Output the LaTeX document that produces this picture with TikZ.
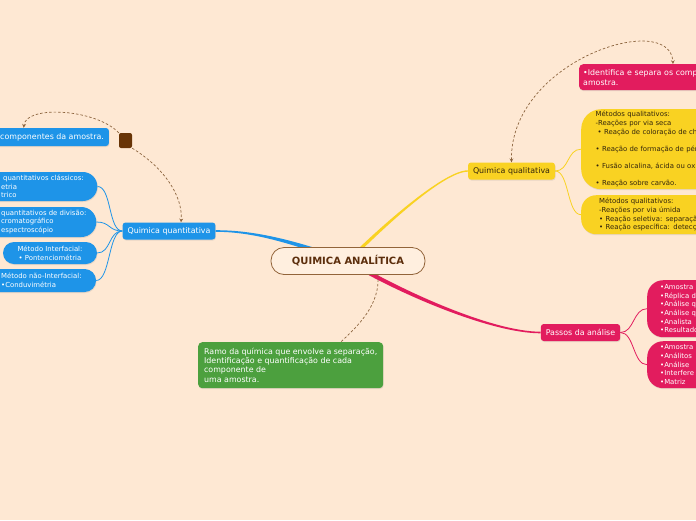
\documentclass[tikz,border=0pt]{standalone}
\usepackage{fontspec}
\setmainfont{DejaVu Sans}
\usepackage{tikz}
\usetikzlibrary{backgrounds, shapes.misc, shadows}
\definecolor{peach}{RGB}{254, 232, 211}
\definecolor{rootfill}{RGB}{255, 239, 223}
\definecolor{rootline}{RGB}{146, 100, 58}
\definecolor{roottext}{RGB}{92, 46, 12}
\definecolor{qblue}{RGB}{30, 148, 232}
\definecolor{qyellow}{RGB}{249, 210, 34}
\definecolor{qpink}{RGB}{226, 28, 94}
\definecolor{qgreen}{RGB}{76, 160, 62}
\definecolor{relbrown}{RGB}{140, 100, 62}
\definecolor{squarebrown}{RGB}{104, 52, 6}
\definecolor{darktext}{RGB}{52, 38, 12}

\tikzset{
  softshadow/.style={drop shadow={shadow xshift=0.5pt, shadow yshift=-1pt, opacity=0.18}},
  rootbox/.style={draw=rootline, line width=0.8, fill=rootfill, rounded corners=13,
    minimum width=154, minimum height=27, text=roottext,
    font=\fontsize{10}{12}\selectfont\bfseries},
  topic/.style={rounded corners=3, minimum height=17, inner xsep=5, inner ysep=0,
    font=\fontsize{7.9}{10}\selectfont, softshadow},
  leaf/.style={inner ysep=0, align=left, font=\fontsize{6.9}{8.6}\selectfont, softshadow},
  leftcap/.style={leaf, rounded rectangle, rounded rectangle west arc=none,
    fill=qblue, text=white},
  relation/.style={relbrown, line width=0.7, dash pattern=on 2.5pt off 2pt}
}

\begin{document}
\begin{tikzpicture}[x=1pt, y=-1pt, >=stealth]

  \useasboundingbox (0,0) rectangle (696,520);
  \begin{scope}[on background layer]
    \fill[peach] (0,0) rectangle (696,520);
  \end{scope}
  \clip (0,0) rectangle (696,520);

  % centre
  \node[rootbox] (root) at (348,261) {QUIMICA ANALÍTICA};

  % main topics
  \node[topic, fill=qblue, text=white] (qtv) at (169,231) {Quimica quantitativa};
  \node[topic, fill=qyellow, text=darktext] (qlt) at (511.5,171) {Quimica qualitativa};
  \node[topic, fill=qpink, text=white] (pas) at (580.5,332.5) {Passos da análise};

  % quantitativa side
  \node[topic, fill=qblue, text=white, anchor=west, minimum height=18] (comp) at (-5,137) {componentes da amostra.};
  \node[fill=squarebrown, rounded corners=2, minimum width=13, minimum height=15, inner sep=0] (sq) at (125.5,140.5) {};

  \node[leftcap, anchor=west, minimum height=29, inner xsep=8] (clas) at (-7,186.5)
    {\hspace{2pt}quantitativos clássicos:\\etria\\trico};
  \node[leftcap, anchor=west, minimum height=30, inner xsep=4] (divi) at (-3,222)
    {quantitativos de divisão:\\cromatográfico\\espectroscópio};
  \node[leaf, fill=qblue, text=white, rounded corners=11, minimum width=94, minimum height=22, align=center] (intf) at (50,253)
    {Método Interfacial:\\• Pontenciométria};
  \node[leftcap, anchor=west, minimum height=23, inner xsep=12] (nint) at (-11,280.5)
    {Método não-Interfacial:\\•Conduvimétria};

  % qualitativa side
  \node[anchor=north west, fill=qpink, text=white, rounded corners=4, minimum height=26, inner xsep=4, inner ysep=0,
    text width=200, align=left, font=\fontsize{7.9}{10}\selectfont, softshadow] (idf) at (579,64)
    {•Identifica e separa os comp\\amostra.};
  \node[leaf, anchor=north west, fill=qyellow, text=darktext, rounded corners=20, minimum height=80,
    inner xsep=14.5, text width=200] (seca) at (581,109)
    {Métodos qualitativos:\\-Reações por via seca\\\hspace{2pt}• Reação de coloração de ch\\[8.6pt]
     • Reação de formação de pér\\[8.6pt]• Fusão alcalina, ácida ou ox\\[8.6pt]• Reação sobre carvão.};
  \node[leaf, anchor=north west, fill=qyellow, text=darktext, rounded corners=15, minimum height=39,
    inner xsep=18, text width=200] (umid) at (581,195)
    {Métodos qualitativos:\\-Reações por via úmida\\• Reação seletiva: separaçã\\• Reação específica: detecç};

  % passos
  \node[leaf, anchor=north west, fill=qpink, text=white, rounded corners=16, minimum height=57,
    inner xsep=13, text width=200] (pasa) at (647,280)
    {•Amostra\\•Réplica d\\•Análise q\\•Análise q\\•Analista\\•Resultado};
  \node[leaf, anchor=north west, fill=qpink, text=white, rounded corners=16, minimum height=47,
    inner xsep=13, text width=200] (pasb) at (647,341)
    {•Amostra\\•Análitos\\•Análise\\•Interfere\\•Matriz};

  % definicao
  \node[anchor=north west, fill=qgreen, text=white, rounded corners=4, minimum width=185, minimum height=46,
    inner ysep=0, align=left, font=\fontsize{7.9}{9.3}\selectfont, softshadow] (ramo) at (198,342)
    {Ramo da química que envolve a separação,\\Identificação e quantificação de cada\\componente de\\uma amostra.};

  \begin{scope}[on background layer]
    % branches
    \fill[qblue] ([yshift=0.8]qtv.east) .. controls +(44,0) and +(-48,-16) .. ([yshift=2.4]root.center)
      -- ([yshift=-2.4]root.center) .. controls +(-48,-16) and +(44,0) .. ([yshift=-0.8]qtv.east) -- cycle;
    \fill[qyellow] ([yshift=0.7]qlt.west) .. controls +(-25,0) and +(30,-30) .. ([xshift=-2.4]root.center)
      -- ([xshift=2.4]root.center) .. controls +(30,-30) and +(-25,0) .. ([yshift=-0.7]qlt.west) -- cycle;
    \fill[qpink] ([yshift=0.8]pas.west) .. controls +(-50,0) and +(50,30) .. ([yshift=2.4]root.center)
      -- ([yshift=-2.4]root.center) .. controls +(50,30) and +(-50,0) .. ([yshift=-0.8]pas.west) -- cycle;

    \draw[qblue, line width=0.8] (qtv.west) .. controls +(-14,0) and +(14,0) .. (clas.east);
    \draw[qblue, line width=0.8] (qtv.west) .. controls +(-14,0) and +(14,0) .. (divi.east);
    \draw[qblue, line width=0.8] (qtv.west) .. controls +(-14,0) and +(14,0) .. (intf.east);
    \draw[qblue, line width=0.8] (qtv.west) .. controls +(-14,0) and +(14,0) .. (nint.east);

    \draw[qyellow, line width=0.8] (qlt.east) .. controls +(14,0) and +(-14,0) .. (seca.west);
    \draw[qyellow, line width=0.8] (qlt.east) .. controls +(14,0) and +(-14,0) .. (umid.west);

    \draw[qpink, line width=0.8] (pas.east) .. controls +(14,0) and +(-14,0) .. (pasa.west);
    \draw[qpink, line width=0.8] (pas.east) .. controls +(14,0) and +(-14,0) .. (pasb.west);
  \end{scope}

  % relations
  \draw[relation, ->] (sq.north west) .. controls +(-23,-24) and +(2,-23) .. (comp.162);
  \draw[relation, ->] (sq.south east) .. controls +(31,19) and +(2,-27) .. ([xshift=12]qtv.north);
  \draw[relation, <->] (qlt.north) .. controls +(-1.5,-102) and +(-3,-54) .. ([xshift=94]idf.north west);
  \draw[relation] ([xshift=30]root.south) .. controls +(2,29) and +(19.5,-18) .. ([xshift=50]ramo.north);

\end{tikzpicture}
\end{document}
